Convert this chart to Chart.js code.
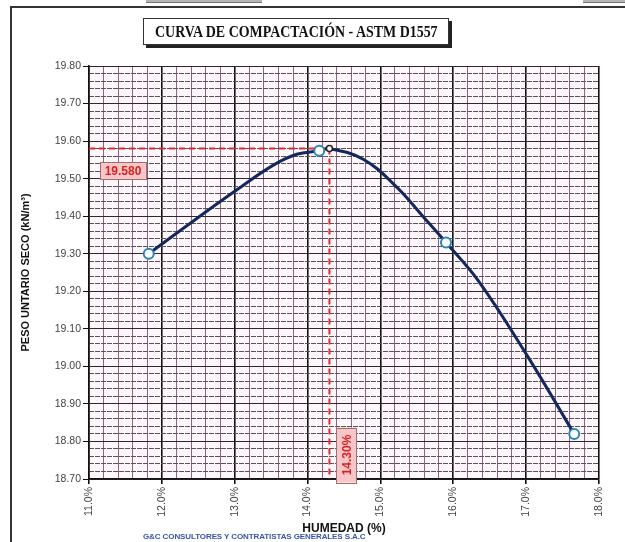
<!DOCTYPE html>
<html>
<head>
<meta charset="utf-8">
<script src="https://cdn.jsdelivr.net/npm/chart.js@4.4.1/dist/chart.umd.min.js"></script>
<style>
    html, body { margin: 0; padding: 0; background: #ffffff; }
    #wrap { position: relative; width: 625px; height: 542px; overflow: hidden; }
    #frame { position: absolute; left: 10px; top: 6px; width: 640px; height: 560px; border: 2px solid #333; box-sizing: border-box; }
    .tab { position: absolute; top: 0; height: 2px; background: #b5b5b5; border-bottom: 1px solid #777; }
    #title-box {
        position: absolute; left: 143px; top: 18px; width: 304px; height: 25px;
        border: 1px solid #333; background: #fff; box-shadow: 3px 3px 0 #222;
        display: flex; align-items: center; justify-content: center; overflow: hidden;
    }
    #title-box span {
        font-family: 'Liberation Serif', 'Times New Roman', serif; font-weight: bold; font-size: 17px;
        color: #111; white-space: nowrap; transform: scaleX(0.82); display: inline-block;
    }
    #footer {
        position: absolute; left: 143px; top: 532px; font-family: 'Liberation Sans Narrow', 'Liberation Sans', Arial, sans-serif;
        font-weight: bold; font-size: 8px; color: #3a56a8; white-space: nowrap; letter-spacing: -0.1px;
    }
    canvas { position: absolute; left: 0; top: 0; }
</style>
</head>
<body>
<div id="wrap">
    <div id="frame"></div>
    <div class="tab" style="left:146px;width:116px"></div>
    <div class="tab" style="left:583px;width:42px"></div>
    <canvas id="compaction-chart" width="625" height="542"></canvas>
    <div id="title-box"><span>CURVA DE COMPACTACIÓN - ASTM D1557</span></div>
    <div id="footer">G&amp;C CONSULTORES Y CONTRATISTAS GENERALES S.A.C</div>
</div>
<script>
// ensayo: humedad (%) vs peso unitario seco (kN/m3)
const moisturePoints = [11.82, 14.16, 15.90, 17.66];
const densityPoints = [19.30, 19.574, 19.33, 18.82];

// curva ajustada
const curveMoisture = [11.82, 12.48, 13.02, 13.53, 13.85, 14.16, 14.30, 14.77, 15.22, 15.59, 15.90, 16.34, 17.01, 17.66];
const curveDensity = [19.30, 19.394, 19.469, 19.536, 19.565, 19.574, 19.58, 19.551, 19.478, 19.398, 19.33, 19.229, 19.03, 18.82];

const optimumMoisture = 14.30;
const maxDensity = 19.58;

const xMin = 11, xMax = 18;
const yMin = 18.70, yMax = 19.80;

const isWhole = v => Math.abs(v - Math.round(v)) < 1e-6;
const isTenth = v => Math.abs(v * 10 - Math.round(v * 10)) < 1e-6;

function toXY(xs, ys) {
    return xs.map((x, i) => ({ x, y: ys[i] }));
}

const plotBackground = {
    id: 'plotBackground',
    beforeDraw(chart) {
        const { ctx, chartArea } = chart;
        ctx.save();
        ctx.fillStyle = '#fff6fc';
        ctx.fillRect(chartArea.left, chartArea.top, chartArea.right - chartArea.left, chartArea.bottom - chartArea.top);
        ctx.restore();
    }
};

function drawTag(ctx, cx, cy, w, h, text, rotate) {
    ctx.save();
    ctx.fillStyle = '#f8c6c6';
    ctx.strokeStyle = '#a07070';
    ctx.lineWidth = 1;
    ctx.fillRect(cx - w / 2, cy - h / 2, w, h);
    ctx.strokeRect(Math.round(cx - w / 2) + 0.5, Math.round(cy - h / 2) + 0.5, w, h);
    ctx.translate(cx, cy);
    if (rotate) ctx.rotate(-Math.PI / 2);
    ctx.fillStyle = '#d42424';
    ctx.font = 'bold 12px "Liberation Sans", Arial, sans-serif';
    ctx.textAlign = 'center';
    ctx.textBaseline = 'middle';
    ctx.fillText(text, 0, 1);
    ctx.restore();
}

const optimumTags = {
    id: 'optimumTags',
    afterDatasetsDraw(chart) {
        const { ctx, scales } = chart;
        const yPx = scales.y.getPixelForValue(maxDensity);
        const xPx = scales.x.getPixelForValue(optimumMoisture);
        drawTag(ctx, scales.x.left + 34, yPx + 22, 46, 17, maxDensity.toFixed(3), false);
        drawTag(ctx, xPx + 17, scales.y.bottom - 24, 20, 55, optimumMoisture.toFixed(2) + '%', true);
    }
};

const tickFont = { family: '"Liberation Sans", Arial, sans-serif', size: 10.5 };

new Chart(document.getElementById('compaction-chart'), {
    type: 'scatter',
    data: {
        datasets: [
            {
                label: 'Puntos',
                data: toXY(moisturePoints, densityPoints),
                pointRadius: 5,
                pointBackgroundColor: '#ffffff',
                pointBorderColor: '#2b86b5',
                pointBorderWidth: 2,
                showLine: false,
                order: 0
            },
            {
                label: 'Maximo',
                data: [{ x: optimumMoisture, y: maxDensity }],
                pointRadius: 3,
                pointBackgroundColor: '#ffffff',
                pointBorderColor: '#222222',
                pointBorderWidth: 1.5,
                showLine: false,
                order: 1
            },
            {
                label: 'Curva',
                data: toXY(curveMoisture, curveDensity),
                showLine: true,
                borderColor: '#14285e',
                borderWidth: 3,
                tension: 0.4,
                pointRadius: 0,
                order: 2
            },
            {
                label: 'MDD',
                data: [{ x: xMin, y: maxDensity }, { x: optimumMoisture, y: maxDensity }],
                showLine: true,
                borderColor: '#e0282f',
                borderWidth: 2,
                borderDash: [6, 4],
                pointRadius: 0,
                order: 3
            },
            {
                label: 'OCH',
                data: [{ x: optimumMoisture, y: maxDensity }, { x: optimumMoisture, y: yMin }],
                showLine: true,
                borderColor: '#e0282f',
                borderWidth: 2,
                borderDash: [6, 4],
                pointRadius: 0,
                order: 3
            }
        ]
    },
    options: {
        responsive: false,
        animation: false,
        devicePixelRatio: 1,
        layout: { padding: { top: 66, right: 26, left: 0, bottom: 0 } },
        plugins: {
            legend: { display: false },
            tooltip: { enabled: false }
        },
        scales: {
            x: {
                type: 'linear',
                min: xMin,
                max: xMax,
                afterFit: scale => { scale.height = 63; },
                ticks: {
                    stepSize: 0.2,
                    autoSkip: false,
                    minRotation: 90,
                    maxRotation: 90,
                    padding: 3,
                    color: '#444',
                    font: tickFont,
                    callback: value => isWhole(value) ? value.toFixed(1) + '%' : ''
                },
                grid: {
                    color: ctx => (ctx.tick && isWhole(ctx.tick.value)) ? '#111111' : '#8a6484',
                    lineWidth: ctx => (ctx.tick && isWhole(ctx.tick.value)) ? 1.6 : 1,
                    tickColor: ctx => (ctx.tick && isWhole(ctx.tick.value)) ? '#111111' : 'rgba(0,0,0,0)',
                    tickLength: 5
                },
                border: { color: '#111111', width: 1.6 },
                title: {
                    display: true,
                    text: 'HUMEDAD (%)',
                    color: '#111',
                    font: { family: '"Liberation Sans", Arial, sans-serif', size: 12, weight: 'bold' },
                    padding: { top: 4, bottom: 6 }
                }
            },
            y: {
                type: 'linear',
                position: 'left',
                min: yMin,
                max: yMax,
                afterFit: scale => { scale.width = 89; },
                ticks: {
                    stepSize: 0.1,
                    padding: 2,
                    color: '#444',
                    font: tickFont,
                    callback: value => value.toFixed(2)
                },
                grid: {
                    color: '#2a2a2a',
                    lineWidth: 1,
                    tickColor: '#111111',
                    tickLength: 6
                },
                border: { color: '#111111', width: 1.6 },
                title: {
                    display: true,
                    text: 'PESO UNTARIO SECO (kN/m³)',
                    color: '#111',
                    font: { family: '"Liberation Sans", Arial, sans-serif', size: 11, weight: 'bold' },
                    padding: { top: 19, bottom: 0 }
                }
            },
            yMinor: {
                type: 'linear',
                position: 'left',
                min: yMin,
                max: yMax,
                afterFit: scale => { scale.width = 0; },
                ticks: { stepSize: 0.02, display: false },
                grid: {
                    color: ctx => (ctx.tick && !isTenth(ctx.tick.value)) ? '#555555' : 'rgba(0,0,0,0)',
                    lineWidth: 1,
                    drawTicks: false
                },
                border: { display: false, dash: [5, 1] }
            }
        }
    },
    plugins: [plotBackground, optimumTags]
});
</script>
</body>
</html>
